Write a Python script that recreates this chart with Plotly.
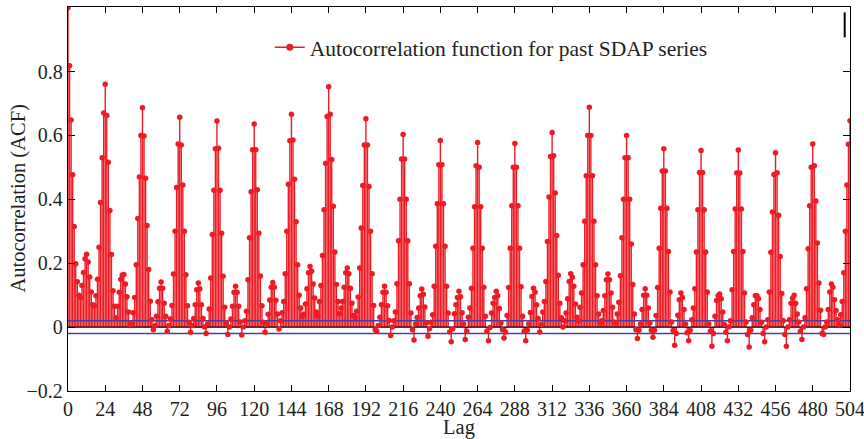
import plotly.graph_objects as go

# ACF values, one list per 24-lag cycle (lags 24k .. 24k+23)
acf_c00 = [1.0, 0.818, 0.648, 0.477, 0.315, 0.198, 0.142, 0.10, 0.093, 0.13, 0.171, 0.214,
           0.228, 0.204, 0.157, 0.11, 0.07, 0.067, 0.098, 0.15, 0.25, 0.39, 0.53, 0.67]
acf_c01 = [0.76, 0.662, 0.516, 0.365, 0.227, 0.114, 0.065, 0.029, 0.065, 0.109, 0.15, 0.163,
           0.165, 0.135, 0.095, 0.047, 0.008, 0.012, 0.045, 0.093, 0.195, 0.34, 0.47, 0.60]
acf_c02 = [0.687, 0.598, 0.466, 0.318, 0.18, 0.081, 0.023, -0.008, 0.005, 0.034, 0.079, 0.122,
           0.141, 0.122, 0.075, 0.034, -0.013, 0.005, 0.025, 0.068, 0.166, 0.30, 0.437, 0.573]
acf_c03 = [0.657, 0.57, 0.445, 0.30, 0.164, 0.067, 0.015, -0.016, 0.005, 0.027, 0.07, 0.117,
           0.138, 0.12, 0.07, 0.027, 0.0, -0.02, 0.01, 0.057, 0.154, 0.29, 0.428, 0.558]
acf_c04 = [0.645, 0.56, 0.428, 0.294, 0.159, 0.062, 0.013, -0.023, 0.0, 0.025, 0.065, 0.109,
           0.128, 0.109, 0.065, 0.016, -0.025, 0.0, 0.02, 0.05, 0.148, 0.28, 0.424, 0.555]
acf_c05 = [0.636, 0.555, 0.43, 0.294, 0.16, 0.067, 0.015, -0.016, 0.01, 0.04, 0.085, 0.125,
           0.14, 0.125, 0.084, 0.041, -0.006, 0.02, 0.045, 0.08, 0.167, 0.30, 0.447, 0.583]
acf_c06 = [0.666, 0.586, 0.463, 0.33, 0.195, 0.10, 0.06, 0.034, 0.04, 0.072, 0.12, 0.17,
           0.19, 0.175, 0.135, 0.091, 0.047, 0.035, 0.08, 0.13, 0.224, 0.367, 0.513, 0.659]
acf_c07 = [0.752, 0.666, 0.525, 0.378, 0.235, 0.133, 0.08, 0.042, 0.06, 0.08, 0.125, 0.17,
           0.185, 0.167, 0.122, 0.075, 0.036, 0.03, 0.05, 0.094, 0.185, 0.31, 0.443, 0.57]
acf_c08 = [0.652, 0.57, 0.44, 0.30, 0.167, 0.068, -0.008, -0.013, 0.005, 0.031, 0.07, 0.109,
           0.128, 0.109, 0.067, 0.021, -0.026, 0.0, 0.02, 0.047, 0.136, 0.27, 0.40, 0.526]
acf_c09 = [0.603, 0.526, 0.40, 0.27, 0.136, 0.044, -0.008, -0.04, 0.01, 0.03, 0.06, 0.098,
           0.119, 0.103, 0.063, 0.013, -0.029, -0.005, 0.015, 0.039, 0.128, 0.253, 0.386, 0.508]
acf_c10 = [0.584, 0.508, 0.386, 0.253, 0.128, 0.044, -0.015, -0.046, -0.005, 0.042, 0.07, 0.093,
           0.112, 0.095, 0.045, 0.01, -0.039, -0.013, 0.031, 0.06, 0.122, 0.247, 0.377, 0.505]
acf_c11 = [0.578, 0.50, 0.377, 0.247, 0.125, 0.034, -0.013, -0.043, -0.001, 0.044, 0.075, 0.093,
           0.112, 0.098, 0.058, 0.013, -0.008, -0.034, -0.015, 0.036, 0.124, 0.247, 0.38, 0.50]
acf_c12 = [0.575, 0.50, 0.38, 0.247, 0.126, 0.034, -0.013, -0.043, -0.01, 0.01, 0.046, 0.096,
           0.122, 0.109, 0.07, 0.027, -0.015, 0.008, 0.047, 0.08, 0.143, 0.268, 0.407, 0.534]
acf_c13 = [0.609, 0.536, 0.42, 0.287, 0.162, 0.075, 0.029, 0.0, 0.02, 0.044, 0.089, 0.143,
           0.167, 0.156, 0.128, 0.072, 0.031, 0.02, 0.062, 0.107, 0.195, 0.331, 0.474, 0.60]
acf_c14 = [0.688, 0.60, 0.474, 0.331, 0.195, 0.098, 0.041, 0.013, 0.02, 0.052, 0.098, 0.148,
           0.166, 0.148, 0.107, 0.062, 0.016, 0.013, 0.041, 0.078, 0.161, 0.28, 0.40, 0.53]
acf_c15 = [0.60, 0.53, 0.40, 0.26, 0.133, 0.041, -0.008, -0.036, -0.01, 0.01, 0.055, 0.10,
           0.12, 0.10, 0.06, 0.013, -0.01, -0.032, -0.01, 0.036, 0.124, 0.247, 0.372, 0.489]
acf_c16 = [0.558, 0.489, 0.372, 0.237, 0.11, 0.016, -0.011, -0.057, -0.02, 0.037, 0.086, 0.107,
           0.093, 0.055, 0.01, -0.018, -0.043, -0.01, 0.023, 0.06, 0.12, 0.235, 0.367, 0.484]
acf_c17 = [0.553, 0.484, 0.367, 0.235, 0.11, 0.01, -0.013, -0.06, -0.02, 0.034, 0.083, 0.098,
           0.104, 0.089, 0.047, 0.008, -0.016, -0.043, 0.0, 0.02, 0.117, 0.237, 0.37, 0.482]
acf_c18 = [0.554, 0.482, 0.37, 0.237, 0.107, 0.016, -0.023, -0.062, -0.01, 0.029, 0.07, 0.098,
           0.098, 0.089, 0.055, 0.015, -0.02, -0.046, 0.0, 0.023, 0.11, 0.234, 0.36, 0.478]
acf_c19 = [0.546, 0.483, 0.35, 0.221, 0.105, 0.02, -0.023, -0.06, 0.0, 0.023, 0.075, 0.09,
           0.10, 0.075, 0.041, 0.016, -0.013, -0.039, 0.0, 0.029, 0.12, 0.245, 0.38, 0.50]
acf_c20 = [0.573, 0.505, 0.395, 0.263, 0.138, 0.053, -0.02, -0.023, 0.0, 0.016, 0.055, 0.11,
           0.135, 0.125, 0.086, 0.052, 0.023, 0.008, 0.039, 0.08, 0.17, 0.30, 0.445, 0.572]
acf_last = [0.646]

conf_bound = 0.02
x_tick_vals = list(range(0, 505, 24))
x_tick_text = [str(v) for v in x_tick_vals]
y_tick_vals = [-0.2, 0, 0.2, 0.4, 0.6, 0.8]
y_tick_text = ["\u22120.2", "0", "0.2", "0.4", "0.6", "0.8"]
legend_name = "Autocorrelation function for past SDAP series"
x_title = "Lag"
y_title = "Autocorrelation (ACF)"

acf = (acf_c00 + acf_c01 + acf_c02 + acf_c03 + acf_c04 + acf_c05 + acf_c06 + acf_c07 +
       acf_c08 + acf_c09 + acf_c10 + acf_c11 + acf_c12 + acf_c13 + acf_c14 + acf_c15 +
       acf_c16 + acf_c17 + acf_c18 + acf_c19 + acf_c20 + acf_last)
lags = list(range(len(acf)))

RED = "rgb(237,28,36)"
BLUE = "rgb(64,64,168)"
FONT = "Liberation Serif"
TXT = "#231f20"

stem_x, stem_y = [], []
for l, v in zip(lags, acf):
    stem_x += [l, l, None]
    stem_y += [0, v, None]

fig = go.Figure()
fig.add_trace(go.Scatter(x=stem_x, y=stem_y, mode="lines",
                         line=dict(color=RED, width=1.4), showlegend=False, hoverinfo="skip"))
fig.add_trace(go.Scatter(x=[lags[0], lags[-1]], y=[0, 0], mode="lines",
                         line=dict(color="black", width=1.3), showlegend=False))
fig.add_trace(go.Scatter(x=[lags[0], lags[-1]], y=[conf_bound, conf_bound], mode="lines",
                         line=dict(color=BLUE, width=1.6), showlegend=False))
fig.add_trace(go.Scatter(x=[lags[0], lags[-1]], y=[-conf_bound, -conf_bound], mode="lines",
                         line=dict(color=BLUE, width=1.6), showlegend=False))
fig.add_trace(go.Scatter(x=lags, y=acf, mode="markers",
                         marker=dict(color=RED, size=5.5), showlegend=False))
fig.add_trace(go.Scatter(x=[None], y=[None], mode="lines+markers", name=legend_name,
                         line=dict(color=RED, width=1.5), marker=dict(color=RED, size=7)))

axis_common = dict(showline=True, linecolor="black", linewidth=1.3, mirror="ticks",
                   ticks="inside", tickcolor="black", tickwidth=1.2, showgrid=False,
                   zeroline=False, automargin=False, ticklabeloverflow="allow",
                   tickfont=dict(family=FONT, size=20, color=TXT))

fig.update_layout(
    width=864, height=439,
    margin=dict(l=68, r=14, t=7, b=48),
    paper_bgcolor="white", plot_bgcolor="white",
    font=dict(family=FONT, size=20, color=TXT),
    xaxis=dict(range=[0, 504], tickvals=x_tick_vals, ticktext=x_tick_text, ticklen=6,
               title=dict(text=x_title, font=dict(family=FONT, size=20.5, color=TXT), standoff=0),
               **axis_common),
    yaxis=dict(range=[-0.2, 1.002], tickvals=y_tick_vals, ticktext=y_tick_text, ticklen=7,
               **axis_common),
    legend=dict(x=0.258, y=0.895, xanchor="left", yanchor="middle",
                bgcolor="rgba(0,0,0,0)", font=dict(family=FONT, size=21.5, color=TXT)),
    showlegend=True,
    annotations=[dict(text=y_title, xref="paper", yref="paper", x=-0.0645, y=0.5,
                      xanchor="center", yanchor="middle", textangle=-90, showarrow=False,
                      font=dict(family=FONT, size=20.5, color=TXT))],
    shapes=[dict(type="line", xref="paper", yref="paper", x0=0.9932, x1=0.9932,
                 y0=0.921, y1=0.986, line=dict(color="black", width=2))],
)

fig.write_html("out.html", config={"displayModeBar": False},
               post_script="document.body.style.margin='0';")
